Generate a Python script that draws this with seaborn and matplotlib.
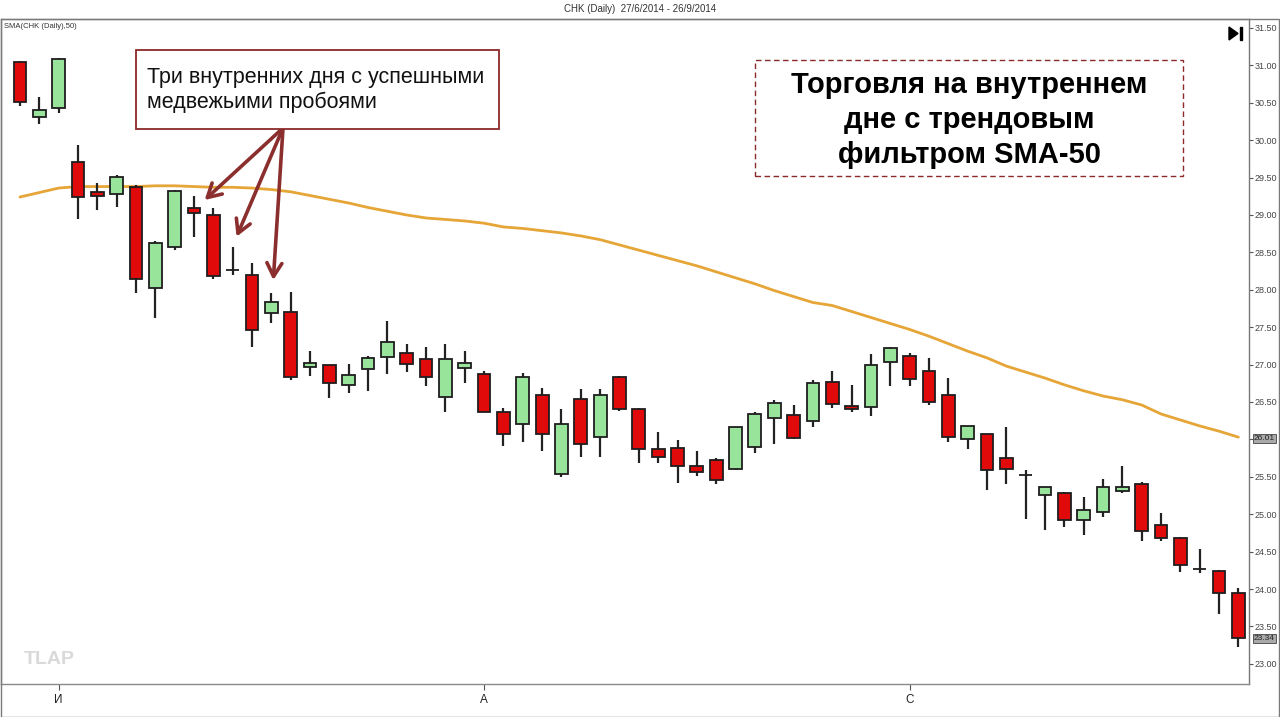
import matplotlib
matplotlib.use("Agg")
import matplotlib.pyplot as plt
import matplotlib.patches as mpatches
import matplotlib.transforms as mtrans
import numpy as np
import pandas as pd
import seaborn as sns

# ---------------- data ----------------
opens = [31.05, 30.31, 30.43, 29.71, 29.31, 29.28, 29.37, 28.02, 28.57, 29.09,
         29.00, 28.27, 28.20, 27.69, 27.70, 26.97, 27.00, 26.73, 26.94, 27.10,
         27.16, 27.07, 26.57, 26.96, 26.87, 26.36, 26.20, 26.60, 25.54, 26.54,
         26.03, 26.83, 26.41, 25.87, 25.88, 25.65, 25.73, 25.61, 25.90, 26.29,
         26.33, 26.25, 26.77, 26.44, 26.43, 27.03, 27.11, 26.92, 26.59, 26.01,
         26.07, 25.75, 25.53, 25.26, 25.29, 24.92, 25.03, 25.31, 25.41, 24.86,
         24.68, 24.27, 24.24, 23.95]
highs = [31.06, 30.58, 31.10, 29.93, 29.43, 29.53, 29.40, 28.65, 29.33, 29.25,
         29.09, 28.57, 28.36, 27.96, 27.97, 27.18, 27.00, 27.01, 27.11, 27.58,
         27.27, 27.24, 27.27, 27.18, 26.91, 26.42, 26.89, 26.69, 26.41, 26.67,
         26.68, 26.85, 26.42, 26.10, 25.99, 25.85, 25.75, 26.17, 26.37, 26.52,
         26.46, 26.80, 26.91, 26.73, 27.14, 27.24, 27.15, 27.09, 26.82, 26.18,
         26.07, 26.16, 25.59, 25.37, 25.30, 25.23, 25.47, 25.65, 25.43, 25.01,
         24.70, 24.53, 24.26, 24.01]
lows = [30.46, 30.21, 30.37, 28.94, 29.06, 29.11, 27.96, 27.62, 28.53, 28.70,
        28.15, 28.20, 27.23, 27.55, 26.80, 26.85, 26.55, 26.62, 26.65, 26.88,
        26.90, 26.71, 26.36, 26.75, 26.36, 25.91, 25.97, 25.84, 25.50, 25.77,
        25.77, 26.38, 25.68, 25.68, 25.42, 25.51, 25.40, 25.59, 25.82, 25.94,
        26.01, 26.17, 26.42, 26.37, 26.31, 26.72, 26.72, 26.46, 25.96, 25.87,
        25.33, 25.40, 24.94, 24.79, 24.83, 24.72, 24.96, 25.28, 24.64, 24.64,
        24.23, 24.21, 23.66, 23.22]
closes = [30.51, 30.41, 31.09, 29.24, 29.25, 29.51, 28.14, 28.62, 29.32, 29.02,
          28.18, 28.27, 27.46, 27.84, 26.83, 27.02, 26.76, 26.86, 27.09, 27.30,
          27.01, 26.84, 27.07, 27.02, 26.37, 26.07, 26.84, 26.07, 26.20, 25.94,
          26.60, 26.41, 25.87, 25.76, 25.65, 25.56, 25.46, 26.17, 26.34, 26.48,
          26.02, 26.75, 26.47, 26.41, 27.00, 27.22, 26.81, 26.50, 26.03, 26.18,
          25.59, 25.60, 25.53, 25.36, 24.92, 25.06, 25.37, 25.36, 24.77, 24.68,
          24.32, 24.27, 23.95, 23.34]
sma50 = [29.24, 29.30, 29.36, 29.38, 29.38, 29.38, 29.38, 29.39, 29.39, 29.38,
         29.37, 29.37, 29.36, 29.34, 29.31, 29.26, 29.21, 29.16, 29.10, 29.05,
         29.00, 28.96, 28.94, 28.92, 28.89, 28.84, 28.82, 28.79, 28.76, 28.72,
         28.67, 28.60, 28.53, 28.46, 28.39, 28.32, 28.24, 28.16, 28.08, 27.99,
         27.91, 27.83, 27.79, 27.71, 27.63, 27.55, 27.47, 27.38, 27.28, 27.18,
         27.09, 26.98, 26.90, 26.82, 26.73, 26.65, 26.58, 26.53, 26.46, 26.34,
         26.26, 26.18, 26.11, 26.03]
month_ticks = [2, 24, 46]
month_labels = ["И", "А", "С"]
y_ticks = [23.0, 23.5, 24.0, 24.5, 25.0, 25.5, 26.0, 26.5, 27.0, 27.5,
           28.0, 28.5, 29.0, 29.5, 30.0, 30.5, 31.0, 31.5]
sma_last_label = "26.01"
close_last_label = "23.34"
inside_days = [9, 11, 13]

title_text = "CHK (Daily)  27/6/2014 - 26/9/2014"
sma_legend = "SMA(CHK (Daily),50)"
note_left = "Три внутренних дня с успешными\nмедвежьими пробоями"
note_right = "Торговля на внутреннем\nдне с трендовым\nфильтром SMA-50"

# ---------------- style ----------------
sns.set_theme(style="white")
plt.rcParams["font.family"] = ["Liberation Sans", "DejaVu Sans"]

W, H = 1280, 717
fig = plt.figure(figsize=(W / 100, H / 100), dpi=100)
fig.patch.set_facecolor("white")
ax = fig.add_axes([1 / W, 1 - 684 / H, 1248 / W, (684 - 19) / H])

df = pd.DataFrame({"i": np.arange(len(opens)), "open": opens, "high": highs,
                   "low": lows, "close": closes, "sma": sma50})
df["up"] = df["close"] >= df["open"]
RED = "#e00a0a"
GREEN = "#98e49a"
EDGE = "#1e1e1e"

# SMA line
sns.lineplot(data=df, x="i", y="sma", ax=ax, color="#e6a537", lw=2.0, zorder=1)

# wicks
ax.vlines(df["i"], df["low"], df["high"], color="#222222", lw=1.6, zorder=2)
# bodies
colors = [GREEN if u else RED for u in df["up"]]
ax.bar(df["i"], df["close"] - df["open"], bottom=df["open"], width=0.66,
       color=colors, edgecolor=EDGE, linewidth=1.3, zorder=3)

ax.set_xlim(-0.98, 63.55)
ax.set_ylim(22.73, 31.62)
ax.set_xlabel("")
ax.set_ylabel("")

ax.yaxis.tick_right()
ax.set_yticks(y_ticks)
# the 26.00 label is hidden behind the SMA price tag in the original
ylabels = ["" if abs(v - 26.0) < 1e-9 else f"{v:.2f}" for v in y_ticks]
ax.set_yticklabels(ylabels, fontsize=6.5, color="#444444")
ax.tick_params(axis="y", direction="out", length=3, width=0.8, color="#555555", pad=1, right=True, left=False)
ax.set_xticks(month_ticks)
ax.set_xticklabels(month_labels, fontsize=8.5, color="#222222")
ax.tick_params(axis="x", direction="out", length=4, width=0.8, color="#555555", pad=3, bottom=True)
for s in ["left", "top", "bottom", "right"]:
    ax.spines[s].set_visible(True)
    ax.spines[s].set_color("#8a8a8a")
    ax.spines[s].set_linewidth(1.0)
ax.spines["right"].set_color("#777777")
ax.grid(False)

# price tags on the right axis
btr = mtrans.blended_transform_factory(ax.transAxes, ax.transData)
for val, lab in [(sma50[-1] - 0.02, sma_last_label), (closes[-1], close_last_label)]:
    ax.text(1.004, val, lab, transform=btr, fontsize=6, color="#222222", va="center", ha="left",
            bbox=dict(boxstyle="square,pad=0.15", fc="#a9a9a9", ec="#444444", lw=0.6), clip_on=False)

# outer frame
fig.add_artist(mpatches.Rectangle((0.5 / W, 0.5 / H), 1 - 1.5 / W, (H - 19) / H - 0.5 / H,
                                  transform=fig.transFigure, fill=False, ec="#7a7a7a", lw=1.0))

# titles
fig.text(640 / W, 1 - 9 / H, title_text, fontsize=7, color="#333333", ha="center", va="center")
ax.text(3 / 1248, 1 - 8 / 665, sma_legend, transform=ax.transAxes, fontsize=5.5,
        color="#333333", ha="left", va="center")
fig.text(24 / W, 1 - 660 / H, "TLAP", fontsize=14, fontweight="bold", color="#d9d9d9",
         ha="left", va="center")

# play-to-end icon
fig.add_artist(mpatches.Polygon([[1229 / W, 1 - 27 / H], [1229 / W, 1 - 40 / H], [1238 / W, 1 - 33.5 / H]],
                                closed=True, transform=fig.transFigure, fc="black", ec="black"))
fig.add_artist(mpatches.Rectangle((1240 / W, 1 - 40 / H), 2.2 / W, 13 / H, transform=fig.transFigure,
                                  fc="black", ec="black"))

# left annotation box
fig.add_artist(mpatches.Rectangle((136 / W, 1 - 129 / H), 363 / W, 79 / H, transform=fig.transFigure,
                                  fc="white", ec="#8b2a2a", lw=1.3, zorder=5))
fig.text(147 / W, 1 - 90 / H, note_left, fontsize=15.5, color="#111111", ha="left", va="center",
         linespacing=1.2, zorder=6)

# arrows to inside days
tips = [(inside_days[0] + 0.55, highs[inside_days[0]] - 0.05),
        (inside_days[1] + 0.2, highs[inside_days[1]] + 0.14),
        (inside_days[2] + 0.1, highs[inside_days[2]] + 0.17)]
for tx, ty in tips:
    ax.annotate("", xy=(tx, ty), xycoords="data", xytext=(283, H - 128), textcoords="figure pixels",
                arrowprops=dict(arrowstyle="->,head_length=0.8,head_width=0.45", color="#8b2e2e", lw=2.6,
                                shrinkA=0, shrinkB=0), zorder=7)

# right annotation box
fig.add_artist(mpatches.Rectangle((755 / W, 1 - 176 / H), 428 / W, 116 / H, transform=fig.transFigure,
                                  fc="white", ec="#8b2a2a", lw=1.0, ls=(0, (4, 2.5)), zorder=5))
fig.text(969 / W, 1 - 120 / H, note_right, fontsize=21, fontweight="bold", color="#000000",
         ha="center", va="center", linespacing=1.3, zorder=6)

fig.savefig("out.png", dpi=100, facecolor="white")
